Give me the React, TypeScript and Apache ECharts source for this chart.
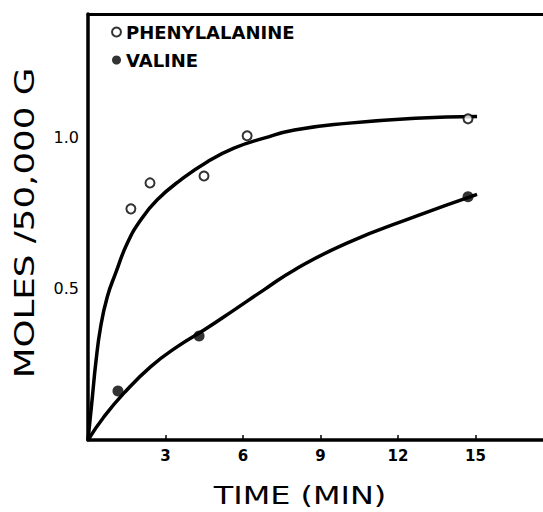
import React, { useEffect, useRef } from "react";
import * as echarts from "echarts";

// Measured data points
const phenylTime = [1.66, 2.4, 4.49, 6.16, 14.71];
const phenylMoles = [0.765, 0.851, 0.874, 1.007, 1.063];
const valineTime = [1.16, 4.3, 14.71];
const valineMoles = [0.162, 0.344, 0.805];

// Hand-drawn fitted curves
const phenylCurveTime = [0, 0.17, 0.3, 0.49, 0.75, 1.07, 1.52, 2.04, 2.68, 3.59, 4.64, 5.65, 6.81, 7.99, 10.0, 12.68, 15.06];
const phenylCurveMoles = [0, 0.143, 0.254, 0.375, 0.475, 0.552, 0.651, 0.728, 0.795, 0.861, 0.922, 0.966, 0.999, 1.026, 1.048, 1.065, 1.071];
const valineCurveTime = [0, 0.62, 1.39, 2.43, 3.46, 4.49, 5.65, 6.81, 7.99, 10.0, 12.68, 15.06];
const valineCurveMoles = [0, 0.077, 0.155, 0.243, 0.309, 0.364, 0.43, 0.497, 0.563, 0.651, 0.74, 0.813];

const xTickLabels = ["3", "6", "9", "12", "15"];
const yTickLabels = ["0.5", "1.0"];
const seriesNames = ["PHENYLALANINE", "VALINE"];
const xTitle = "TIME (MIN)";
const yTitle = "MOLES /50,000 G";

const zip = (a: number[], b: number[]) => a.map((v, i) => [v, b[i]]);

export default function App() {
  const ref = useRef<HTMLDivElement>(null);
  useEffect(() => {
    if (!ref.current) return;
    const chart = echarts.init(ref.current, undefined, { renderer: "svg" });
    const font = "DejaVu Sans";
    chart.setOption({
      animation: false,
      backgroundColor: "#fff",
      grid: {
        left: 88,
        top: 14,
        width: 620,
        height: 426,
        show: false,
        containLabel: false,
        outerBoundsMode: "none",
      },
      legend: {
        orient: "vertical",
        left: 106,
        top: 18,
        itemWidth: 9,
        itemHeight: 9,
        itemGap: 10,
        textStyle: { fontSize: 18, fontWeight: "bold", color: "#000", fontFamily: font },
        data: [
          { name: seriesNames[0], icon: "circle", itemStyle: { color: "#fff", borderColor: "#000", borderWidth: 2 } },
          { name: seriesNames[1], icon: "circle", itemStyle: { color: "#000" } },
        ],
      },
      xAxis: [
        {
          type: "value",
          min: 0,
          max: 24,
          interval: 3,
          axisLine: { show: true, onZero: false, lineStyle: { color: "#000", width: 3.5 } },
          axisTick: { show: true, inside: true, length: 5, lineStyle: { color: "#000", width: 1.5 } },
          splitLine: { show: false },
          axisLabel: {
            margin: 8,
            fontSize: 15,
            fontWeight: "bold",
            color: "#000",
            fontFamily: font,
            formatter: (v: number) => (xTickLabels.includes(String(v)) ? String(v) : ""),
          },
        },
        {
          type: "value",
          position: "top",
          min: 0,
          max: 24,
          interval: 3,
          axisLine: { show: true, onZero: false, lineStyle: { color: "#000", width: 3 } },
          axisTick: { show: false },
          axisLabel: { show: false },
          splitLine: { show: false },
        },
      ],
      yAxis: {
        type: "value",
        min: 0,
        max: 1.41,
        interval: 0.5,
        axisLine: { show: true, onZero: false, lineStyle: { color: "#000", width: 3.5 } },
        axisTick: { show: false },
        splitLine: { show: false },
        axisLabel: {
          margin: 9,
          fontSize: 16,
          color: "#000",
          fontFamily: font,
          formatter: (v: number) => {
            const s = v.toFixed(1);
            return yTickLabels.includes(s) ? s : "";
          },
        },
      },
      graphic: [
        {
          type: "rect",
          z: 100,
          shape: { x: 530, y: 17, width: 14, height: 420 },
          style: { fill: "#fff" },
        },
        {
          type: "text",
          x: 25,
          y: 223,
          rotation: Math.PI / 2,
          scaleX: 1.32,
          style: {
            text: yTitle,
            fontSize: 27,
            fontFamily: font,
            fill: "#000",
            textAlign: "center",
            textVerticalAlign: "middle",
          },
        },
        {
          type: "text",
          x: 300,
          y: 496,
          scaleX: 1.33,
          style: {
            text: xTitle,
            fontSize: 24,
            fontFamily: font,
            fill: "#000",
            textAlign: "center",
            textVerticalAlign: "middle",
          },
        },
      ],
      series: [
        {
          name: "Phenylalanine curve",
          type: "line",
          data: zip(phenylCurveTime, phenylCurveMoles),
          smooth: 0.5,
          showSymbol: false,
          symbol: "none",
          lineStyle: { color: "#000", width: 3.5 },
          z: 2,
        },
        {
          name: "Valine curve",
          type: "line",
          data: zip(valineCurveTime, valineCurveMoles),
          smooth: 0.5,
          showSymbol: false,
          symbol: "none",
          lineStyle: { color: "#000", width: 3.5 },
          z: 2,
        },
        {
          name: seriesNames[0],
          type: "scatter",
          data: zip(phenylTime, phenylMoles),
          symbol: "circle",
          symbolSize: 9,
          itemStyle: { color: "#fff", borderColor: "#000", borderWidth: 2 },
          z: 3,
        },
        {
          name: seriesNames[1],
          type: "scatter",
          data: zip(valineTime, valineMoles),
          symbol: "circle",
          symbolSize: 11,
          itemStyle: { color: "#000" },
          z: 3,
        },
      ],
    });
    return () => chart.dispose();
  }, []);
  return (
    <div
      ref={ref}
      style={{ position: "absolute", left: 0, top: 0, width: 543, height: 512 }}
    />
  );
}
